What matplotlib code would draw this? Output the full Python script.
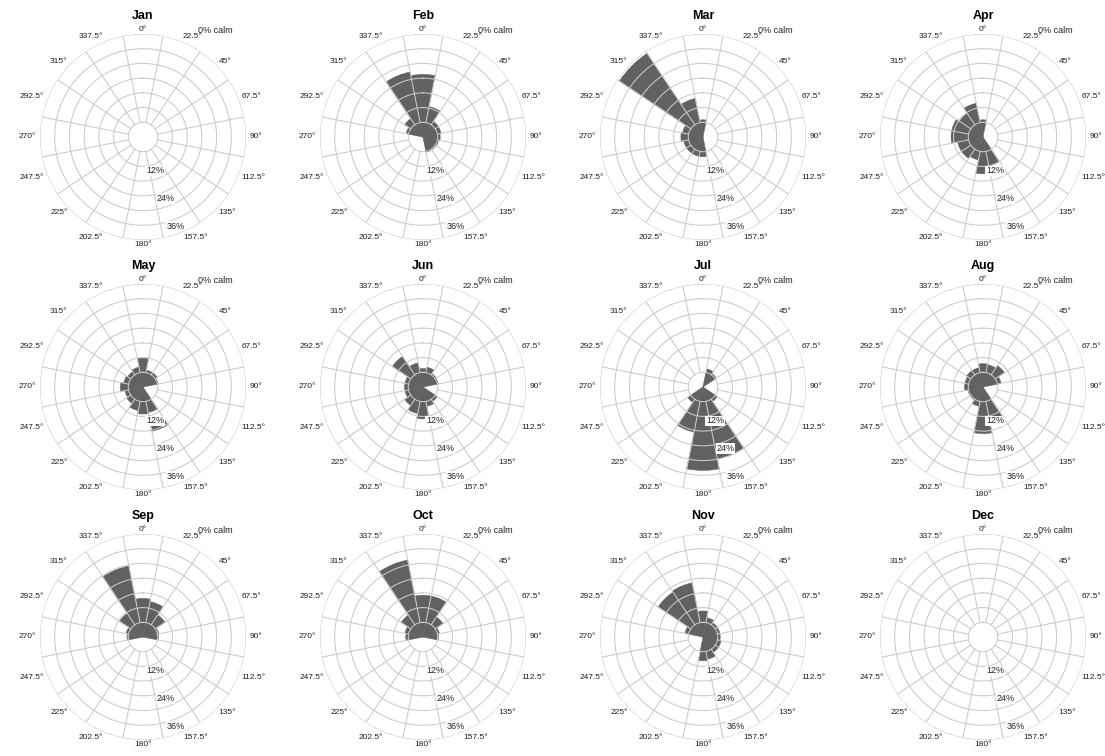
import matplotlib.pyplot as plt
import numpy as np

plt.rcParams['font.family'] = ['Liberation Sans', 'DejaVu Sans']

months = ['Jan', 'Feb', 'Mar', 'Apr', 'May', 'Jun',
          'Jul', 'Aug', 'Sep', 'Oct', 'Nov', 'Dec']

# 16 sectors, clockwise from north: N, NNE, NE, ... NNW
directions = np.arange(16) * 22.5
dir_labels = ['0°', '22.5°', '45°', '67.5°', '90°', '112.5°', '135°', '157.5°',
              '180°', '202.5°', '225°', '247.5°', '270°', '292.5°', '315°', '337.5°']
ring_labels = ['12%', '24%', '36%']
ring_values = [12, 24, 36]

# frequency (%) per sector
jan_pct = [0] * 16
feb_pct = [19.5, 6.6, 1.6, 1.5, 1.0, 0.5, 0.3, 0.3, 0.0, 0.0, 0.0, 0.0, 0.0, 1.0, 3.0, 21.0]
mar_pct = [1.0, 0.0, 0.0, 0.0, 0.0, 0.0, 0.0, 0.0, 2.0, 2.0, 2.0, 2.0, 3.0, 2.5, 35.0, 10.0]
apr_pct = [1.0, 0.0, 0.0, 0.0, 0.0, 0.0, 0.0, 6.0, 9.0, 3.5, 4.5, 4.5, 7.0, 7.0, 5.5, 8.0]
may_pct = [5.8, 1.0, 1.0, 0.3, 0.0, 0.0, 0.0, 4.6, 5.0, 3.8, 2.0, 1.5, 3.2, 2.0, 1.5, 2.2]
jun_pct = [1.5, 2.2, 0.5, 0.3, 0.0, 0.0, 1.0, 2.0, 7.0, 5.0, 3.0, 1.5, 1.5, 1.5, 9.0, 4.0]
jul_pct = [0.0, 1.5, 0.5, 0.0, 0.0, 0.0, 1.0, 24.0, 28.0, 12.7, 1.5, 0.0, 0.0, 0.0, 0.0, 0.0]
aug_pct = [3.5, 3.3, 4.5, 1.5, 0.0, 0.0, 0.0, 9.0, 13.0, 2.0, 0.3, 0.3, 1.5, 1.5, 2.0, 2.0]
sep_pct = [9.7, 8.7, 4.8, 0.5, 0.3, 0.0, 0.0, 0.0, 0.0, 0.0, 0.0, 0.0, 0.5, 1.0, 5.5, 23.5]
oct_pct = [11.0, 11.0, 3.8, 0.8, 0.3, 0.0, 0.0, 0.0, 0.0, 0.0, 0.0, 0.0, 1.0, 1.5, 4.7, 26.0]
nov_pct = [4.6, 2.0, 1.0, 1.0, 1.0, 1.5, 1.5, 3.2, 3.7, 0.0, 0.0, 0.0, 0.0, 1.5, 16.0, 16.5]
dec_pct = [0] * 16

freqs = [jan_pct, feb_pct, mar_pct, apr_pct, may_pct, jun_pct,
         jul_pct, aug_pct, sep_pct, oct_pct, nov_pct, dec_pct]

# detached upper band in May (SSE sector): from/to %
may_band_dir = 157.5
may_band = (10.3, 12.4)

calm_pct = [0] * 12

W, H = 1105, 756
R = 103                      # outer radius in pixels
hole = 6                     # radius of the calm circle in % units
rmax = 36
grid_col = '#cacaca'
bar_col = '#616161'

fig = plt.figure(figsize=(W / 100, H / 100), dpi=100)
centers_x = [143, 423, 703, 983]
centers_y = [137, 387, 637]

full = np.linspace(0, 2 * np.pi, 361)

for i, (name, vals) in enumerate(zip(months, freqs)):
    row, col = divmod(i, 4)
    cx, cy = centers_x[col], centers_y[row]
    ax = fig.add_axes([(cx - R) / W, 1 - (cy + R) / H, 2 * R / W, 2 * R / H],
                      projection='polar')
    ax.set_theta_zero_location('N')
    ax.set_theta_direction(-1)
    ax.set_axis_off()

    # sectors are filled from the centre out to the calm circle + frequency
    vals = np.asarray(vals, dtype=float)
    heights = np.where(vals > 0, hole + vals, 0)
    ax.bar(np.deg2rad(directions), heights, width=np.deg2rad(22.5), bottom=0,
           color=bar_col, edgecolor=bar_col, linewidth=0.4, zorder=2)
    if name == 'May':
        ax.bar(np.deg2rad(may_band_dir), may_band[1] - may_band[0],
               width=np.deg2rad(22.5), bottom=hole + may_band[0],
               color=bar_col, edgecolor=bar_col, linewidth=0.4, zorder=2)

    # rings every 6 %, spokes on the sector borders
    for r in np.arange(hole, hole + rmax + 1, 6):
        ax.plot(full, np.full_like(full, r), color=grid_col, lw=0.75, zorder=3)
    for a in directions + 11.25:
        ax.plot([np.deg2rad(a)] * 2, [hole, hole + rmax], color=grid_col,
                lw=0.75, zorder=3)
    ax.set_ylim(0, hole + rmax)

    # direction labels
    for d, lab in zip(directions, dir_labels):
        s, c = np.sin(np.deg2rad(d)), np.cos(np.deg2rad(d))
        ha = 'center' if abs(s) < 0.3 else ('left' if s > 0 else 'right')
        va = 'center' if abs(c) < 0.75 else ('bottom' if c > 0 else 'top')
        r_lab = hole + rmax + (1.5 if va == 'center' else 0.6)
        ax.text(np.deg2rad(d), r_lab, lab, fontsize=6, ha=ha, va=va,
                color='#222222', clip_on=False)

    # radial percentage labels
    for v, lab in zip(ring_values, ring_labels):
        ax.text(np.deg2rad(160), hole + v - 3.3, lab, fontsize=6.5, ha='center',
                va='center', color='#222222', zorder=5,
                bbox=dict(facecolor='white', edgecolor='none', pad=0.6))

    ax.text(0.765, 1.015, f'{calm_pct[i]}% calm', transform=ax.transAxes,
            fontsize=6.5, ha='left', va='center', color='#222222', zorder=6)
    ax.text(0.5, 1.088, name, transform=ax.transAxes, fontsize=9,
            fontweight='bold', ha='center', va='center')

fig.savefig('out.png', dpi=100)
